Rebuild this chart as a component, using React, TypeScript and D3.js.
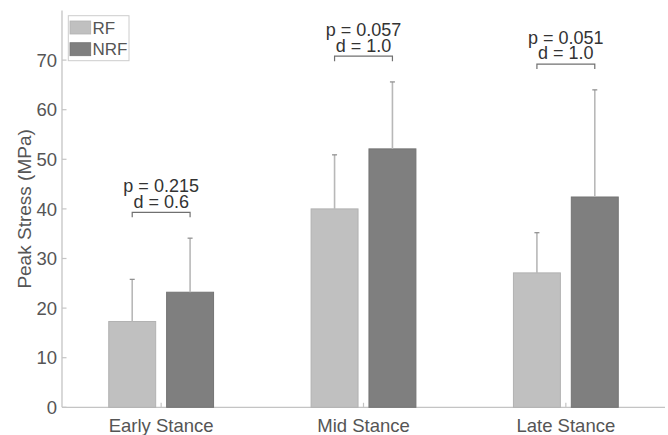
import React from "react";
import * as d3 from "d3";

const categories = ["Early Stance", "Mid Stance", "Late Stance"];
const seriesNames = ["RF", "NRF"];
const rfMean = [17.3, 40.0, 27.1];
const rfSD = [8.5, 10.9, 8.1];
const nrfMean = [23.2, 52.1, 42.4];
const nrfSD = [10.9, 13.5, 21.6];
const pValues = ["p = 0.215", "p = 0.057", "p = 0.051"];
const dValues = ["d = 0.6", "d = 1.0", "d = 1.0"];
const yTicks = [0, 10, 20, 30, 40, 50, 60, 70];

const W = 668;
const H = 435;
const FONT = "'Liberation Sans', Arial, Helvetica, sans-serif";
const TEXT = "#555555";
const AXIS = "#c4c4c4";
const COLORS = ["#c0c0c0", "#7f7f7f"];
const EDGES = ["#b2b2b2", "#747474"];

export default function App() {
  const x = d3.scaleLinear().domain([0.51, 3.49]).range([62, 665]);
  const y = d3.scaleLinear().domain([0, 80]).range([407.3, 10.5]);
  const offset = 0.143;
  const bw = x(0.232) - x(0);
  const means = [rfMean, nrfMean];
  const sds = [rfSD, nrfSD];

  return (
    <svg
      width={W}
      height={H}
      style={{ position: "absolute", left: 0, top: 0, background: "#fff" }}
      fontFamily={FONT}
    >
      {/* axes */}
      <line x1={x.range()[0]} x2={x.range()[1]} y1={y(0)} y2={y(0)} stroke={AXIS} strokeWidth={1.3} />
      <line x1={x.range()[0]} x2={x.range()[0]} y1={y(0)} y2={y.range()[1]} stroke={AXIS} strokeWidth={1.3} />
      {yTicks.map((t) => (
        <g key={t}>
          <line x1={x.range()[0]} x2={x.range()[0] + 4.5} y1={y(t)} y2={y(t)} stroke={AXIS} strokeWidth={1.2} />
          <text x={x.range()[0] - 5} y={y(t)} dy="0.36em" textAnchor="end" fontSize={18.5} fill={TEXT}>
            {t}
          </text>
        </g>
      ))}
      {categories.map((c, i) => (
        <g key={c}>
          <line x1={x(i + 1)} x2={x(i + 1)} y1={y(0)} y2={y(0) - 4.5} stroke={AXIS} strokeWidth={1.2} />
          <text x={x(i + 1)} y={431.5} textAnchor="middle" fontSize={18.5} fill={TEXT}>
            {c}
          </text>
        </g>
      ))}
      <text
        transform={`translate(31, ${(y(0) + y.range()[1]) / 2}) rotate(-90)`}
        textAnchor="middle"
        fontSize={19}
        fill={TEXT}
      >
        Peak Stress (MPa)
      </text>

      {/* bars */}
      {means.map((arr, s) =>
        arr.map((v, i) => {
          const cx = x(i + 1 + (s === 0 ? -offset : offset));
          return (
            <g key={`${s}-${i}`}>
              <rect
                x={cx - bw / 2}
                y={y(v)}
                width={bw}
                height={y(0) - y(v)}
                fill={COLORS[s]}
                stroke={EDGES[s]}
                strokeWidth={1}
              />
              <line x1={cx} x2={cx} y1={y(v)} y2={y(v + sds[s][i])} stroke="#b8b8b8" strokeWidth={1.6} />
              <line x1={cx - 2.5} x2={cx + 2.5} y1={y(v + sds[s][i])} y2={y(v + sds[s][i])} stroke="#8a8a8a" strokeWidth={1.2} />
            </g>
          );
        })
      )}

      {/* significance brackets */}
      {categories.map((c, i) => {
        const top = Math.max(rfMean[i] + rfSD[i], nrfMean[i] + nrfSD[i]) + 5.2;
        const x1 = x(i + 1 - offset);
        const x2 = x(i + 1 + offset);
        const by = y(top);
        return (
          <g key={`b-${c}`}>
            <path
              d={`M${x1},${by + 5} V${by} H${x2} V${by + 5}`}
              fill="none"
              stroke="#707070"
              strokeWidth={1.2}
            />
            <text x={x(i + 1)} y={by - 4.6} textAnchor="middle" fontSize={18} fill="#333">
              {dValues[i]}
            </text>
            <text x={x(i + 1)} y={by - 20} textAnchor="middle" fontSize={18} fill="#333">
              {pValues[i]}
            </text>
          </g>
        );
      })}

      {/* legend */}
      <rect x={68.3} y={15.7} width={60.7} height={45} fill="#fff" stroke="#cccccc" strokeWidth={1} />
      {seriesNames.map((n, s) => (
        <g key={n}>
          <rect x={70} y={21 + s * 21.7} width={20.7} height={13} fill={COLORS[s]} stroke={EDGES[s]} strokeWidth={0.8} />
          <text x={92.5} y={34 + s * 21.3} fontSize={17} fill={TEXT}>
            {n}
          </text>
        </g>
      ))}
    </svg>
  );
}
